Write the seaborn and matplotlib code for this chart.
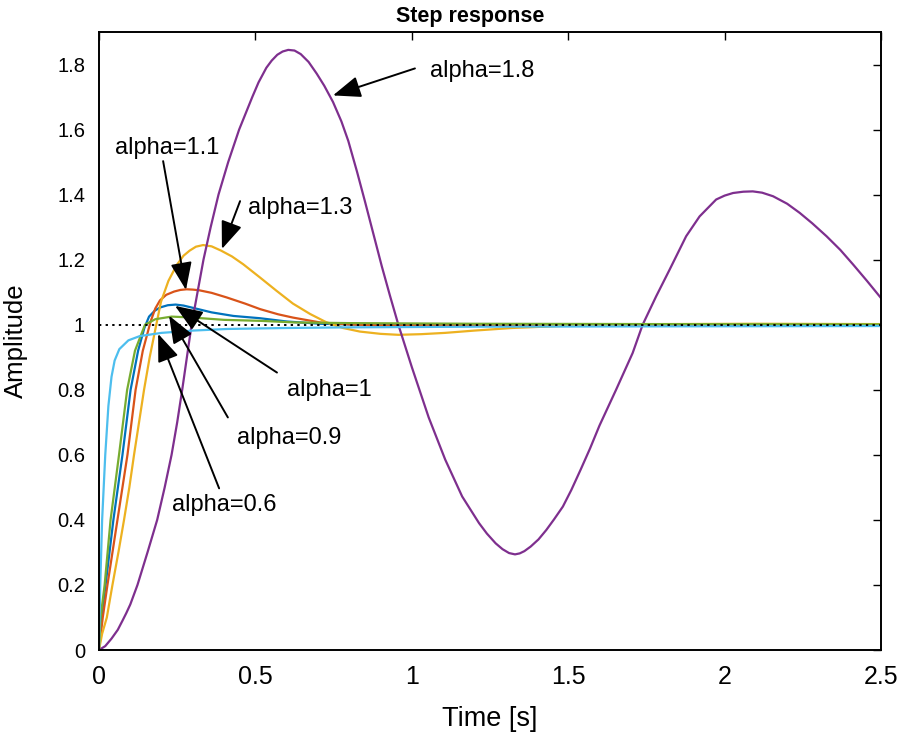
import numpy as np
import pandas as pd
import matplotlib
matplotlib.use("Agg")
import matplotlib.pyplot as plt
from matplotlib.ticker import FuncFormatter, FixedLocator
import seaborn as sns

# ---------------- data ----------------
t_a1 = [0, 0.008, 0.021, 0.046, 0.075, 0.101, 0.125, 0.145, 0.16, 0.178, 0.195, 0.22, 0.245, 0.27, 0.3, 0.36, 0.43, 0.515, 0.6, 0.707, 0.8, 1.0, 1.5, 2.5]
y_a1 = [0, 0.1, 0.2, 0.4, 0.6, 0.8, 0.92, 0.99, 1.025, 1.043, 1.053, 1.06, 1.062, 1.059, 1.052, 1.038, 1.027, 1.020, 1.010, 1.003, 1.001, 1.0, 1.0, 1.0]

t_a11 = [0, 0.012, 0.027, 0.059, 0.091, 0.117, 0.14, 0.165, 0.18, 0.195, 0.215, 0.24, 0.26, 0.28, 0.3, 0.32, 0.36, 0.408, 0.467, 0.515, 0.573, 0.62, 0.707, 0.8, 0.9, 1.2, 2.5]
y_a11 = [0, 0.1, 0.2, 0.4, 0.6, 0.8, 0.92, 1.01, 1.05, 1.075, 1.092, 1.102, 1.107, 1.109, 1.108, 1.106, 1.098, 1.084, 1.065, 1.048, 1.032, 1.022, 1.007, 1.001, 0.998, 0.999, 1.0]

t_a13 = [0, 0.01, 0.025, 0.043, 0.062, 0.08, 0.097, 0.112, 0.128, 0.144, 0.162, 0.181, 0.198, 0.222, 0.248, 0.27, 0.29, 0.31, 0.333, 0.36, 0.39, 0.425, 0.461, 0.515, 0.568, 0.62, 0.675, 0.728, 0.78, 0.834, 0.9, 0.957, 1.03, 1.107, 1.2, 1.32, 1.5, 1.8, 2.1, 2.5]
y_a13 = [0, 0.05, 0.1, 0.2, 0.3, 0.4, 0.5, 0.6, 0.7, 0.8, 0.9, 0.99, 1.07, 1.135, 1.183, 1.212, 1.228, 1.240, 1.245, 1.241, 1.228, 1.21, 1.186, 1.145, 1.104, 1.065, 1.033, 1.007, 0.99, 0.979, 0.972, 0.969, 0.971, 0.975, 0.982, 0.99, 0.997, 1.002, 1.003, 1.002]

t_a18 = [0, 0.02, 0.04, 0.06, 0.075, 0.087, 0.1, 0.123, 0.155, 0.186, 0.21, 0.232, 0.25, 0.266, 0.281, 0.296, 0.315, 0.334, 0.357, 0.382, 0.413, 0.448, 0.49, 0.51, 0.535, 0.552, 0.57, 0.587, 0.605, 0.625, 0.645, 0.67, 0.696, 0.72, 0.748, 0.775, 0.797, 0.825, 0.85, 0.877, 0.904, 0.93, 0.957, 1.0, 1.054, 1.107, 1.161, 1.215, 1.24, 1.268, 1.29, 1.311, 1.33, 1.345, 1.36, 1.38, 1.405, 1.43, 1.455, 1.483, 1.51, 1.54, 1.57, 1.6, 1.653, 1.706, 1.738, 1.781, 1.824, 1.877, 1.92, 1.973, 2.0, 2.027, 2.06, 2.09, 2.12, 2.155, 2.2, 2.24, 2.28, 2.326, 2.37, 2.411, 2.455, 2.5]
y_a18 = [0, 0.012, 0.035, 0.062, 0.09, 0.113, 0.14, 0.2, 0.3, 0.4, 0.5, 0.6, 0.7, 0.8, 0.9, 1.0, 1.1, 1.2, 1.3, 1.4, 1.5, 1.6, 1.7, 1.745, 1.79, 1.812, 1.830, 1.840, 1.845, 1.843, 1.832, 1.808, 1.772, 1.735, 1.685, 1.625, 1.565, 1.47, 1.38, 1.28, 1.18, 1.09, 1.0, 0.87, 0.715, 0.585, 0.472, 0.39, 0.358, 0.328, 0.31, 0.298, 0.294, 0.297, 0.304, 0.318, 0.34, 0.369, 0.402, 0.441, 0.492, 0.555, 0.62, 0.69, 0.80, 0.913, 1.0, 1.087, 1.169, 1.272, 1.333, 1.385, 1.397, 1.405, 1.409, 1.41, 1.406, 1.395, 1.372, 1.344, 1.312, 1.272, 1.23, 1.185, 1.135, 1.082]

t_a09 = [0, 0.005, 0.018, 0.037, 0.064, 0.09, 0.115, 0.147, 0.18, 0.232, 0.3, 0.4, 0.515, 0.627, 0.8, 1.2, 1.8, 2.5]
y_a09 = [0, 0.1, 0.2, 0.4, 0.6, 0.8, 0.92, 1.0, 1.017, 1.025, 1.022, 1.015, 1.012, 1.007, 1.005, 1.003, 1.002, 1.001]

t_a06 = [0, 0.004, 0.01, 0.02, 0.03, 0.04, 0.05, 0.065, 0.094, 0.13, 0.2, 0.3, 0.41, 0.6, 0.8, 1.2, 1.8, 2.5]
y_a06 = [0, 0.2, 0.4, 0.6, 0.75, 0.84, 0.89, 0.925, 0.952, 0.965, 0.975, 0.982, 0.987, 0.99, 0.992, 0.994, 0.995, 0.996]

series_names = ["alpha=1", "alpha=1.1", "alpha=1.3", "alpha=1.8", "alpha=0.9", "alpha=0.6"]
series_t = [t_a1, t_a11, t_a13, t_a18, t_a09, t_a06]
series_y = [y_a1, y_a11, y_a13, y_a18, y_a09, y_a06]
colors = ["#0072BD", "#D95319", "#EDB120", "#7E2F8E", "#77AC30", "#4DBEEE"]

x_ticks = [0, 0.5, 1, 1.5, 2, 2.5]
y_ticks = [0, 0.2, 0.4, 0.6, 0.8, 1, 1.2, 1.4, 1.6, 1.8]

# annotation text: (label, text position, arrow tail, arrow tip)
annotations = [
    ("alpha=1.8", (1.058, 1.779), (1.01, 1.788), (0.748, 1.705)),
    ("alpha=1.1", (0.051, 1.543), (0.205, 1.503), (0.278, 1.107)),
    ("alpha=1.3", (0.476, 1.359), (0.451, 1.380), (0.393, 1.233)),
    ("alpha=1", (0.601, 0.798), (0.569, 0.853), (0.243, 1.058)),
    ("alpha=0.9", (0.441, 0.653), (0.412, 0.715), (0.224, 1.028)),
    ("alpha=0.6", (0.233, 0.445), (0.384, 0.497), (0.189, 0.972)),
]

rows = []
for name, ts, ys in zip(series_names, series_t, series_y):
    for tv, yv in zip(ts, ys):
        rows.append((name, tv, yv))
df = pd.DataFrame(rows, columns=["alpha", "t", "y"])

# ---------------- style ----------------
sns.set_style("white")
plt.rcParams["font.family"] = ["Liberation Sans", "DejaVu Sans"]
plt.rcParams["text.color"] = "black"
plt.rcParams["axes.labelcolor"] = "black"
plt.rcParams["xtick.color"] = "black"
plt.rcParams["ytick.color"] = "black"

fig = plt.figure(figsize=(8.98, 7.37), dpi=100)
ax = fig.add_axes([99 / 898, 1 - 650 / 737, (881 - 99) / 898, (650 - 32) / 737])

sns.lineplot(data=df, x="t", y="y", hue="alpha", hue_order=series_names,
             palette=colors, sort=False, estimator=None, legend=False,
             linewidth=1.6, ax=ax)

ax.axhline(1, color="black", linestyle=(0, (1.2, 2.2)), linewidth=1.4, zorder=5)

ax.set_xlim(0, 2.5)
ax.set_ylim(0, 1.9)
ax.xaxis.set_major_locator(FixedLocator(x_ticks))
ax.yaxis.set_major_locator(FixedLocator(y_ticks))
fmt = FuncFormatter(lambda v, p: ("%g" % round(v, 3)))
ax.xaxis.set_major_formatter(fmt)
ax.yaxis.set_major_formatter(fmt)

ax.tick_params(axis="both", which="major", direction="in", length=6, width=1,
               top=True, right=True, color="black", labelcolor="black")
ax.tick_params(axis="x", pad=11, labelsize=18)
ax.tick_params(axis="y", pad=10, labelsize=14.5)

for sp in ax.spines.values():
    sp.set_visible(True)
    sp.set_linewidth(1.4)
    sp.set_color("black")

ax.set_xlabel("Time [s]", fontsize=19.5, labelpad=12, color="black")
ax.set_ylabel("Amplitude", fontsize=18.5, labelpad=21, color="black")
ax.set_title("Step response", fontsize=15.5, fontweight="bold", pad=7,
             x=(470 - 99) / 782, color="black")

for label, txt_pos, tail, tip in annotations:
    ax.text(txt_pos[0], txt_pos[1], label, fontsize=17, ha="left", va="center",
            color="black", zorder=7)
    ax.annotate("", xy=tip, xytext=tail,
                arrowprops=dict(arrowstyle="-|>,head_length=0.85,head_width=0.33",
                                mutation_scale=20, color="black", lw=1.4,
                                shrinkA=0, shrinkB=0),
                zorder=8)

fig.savefig("out.png", dpi=100)
